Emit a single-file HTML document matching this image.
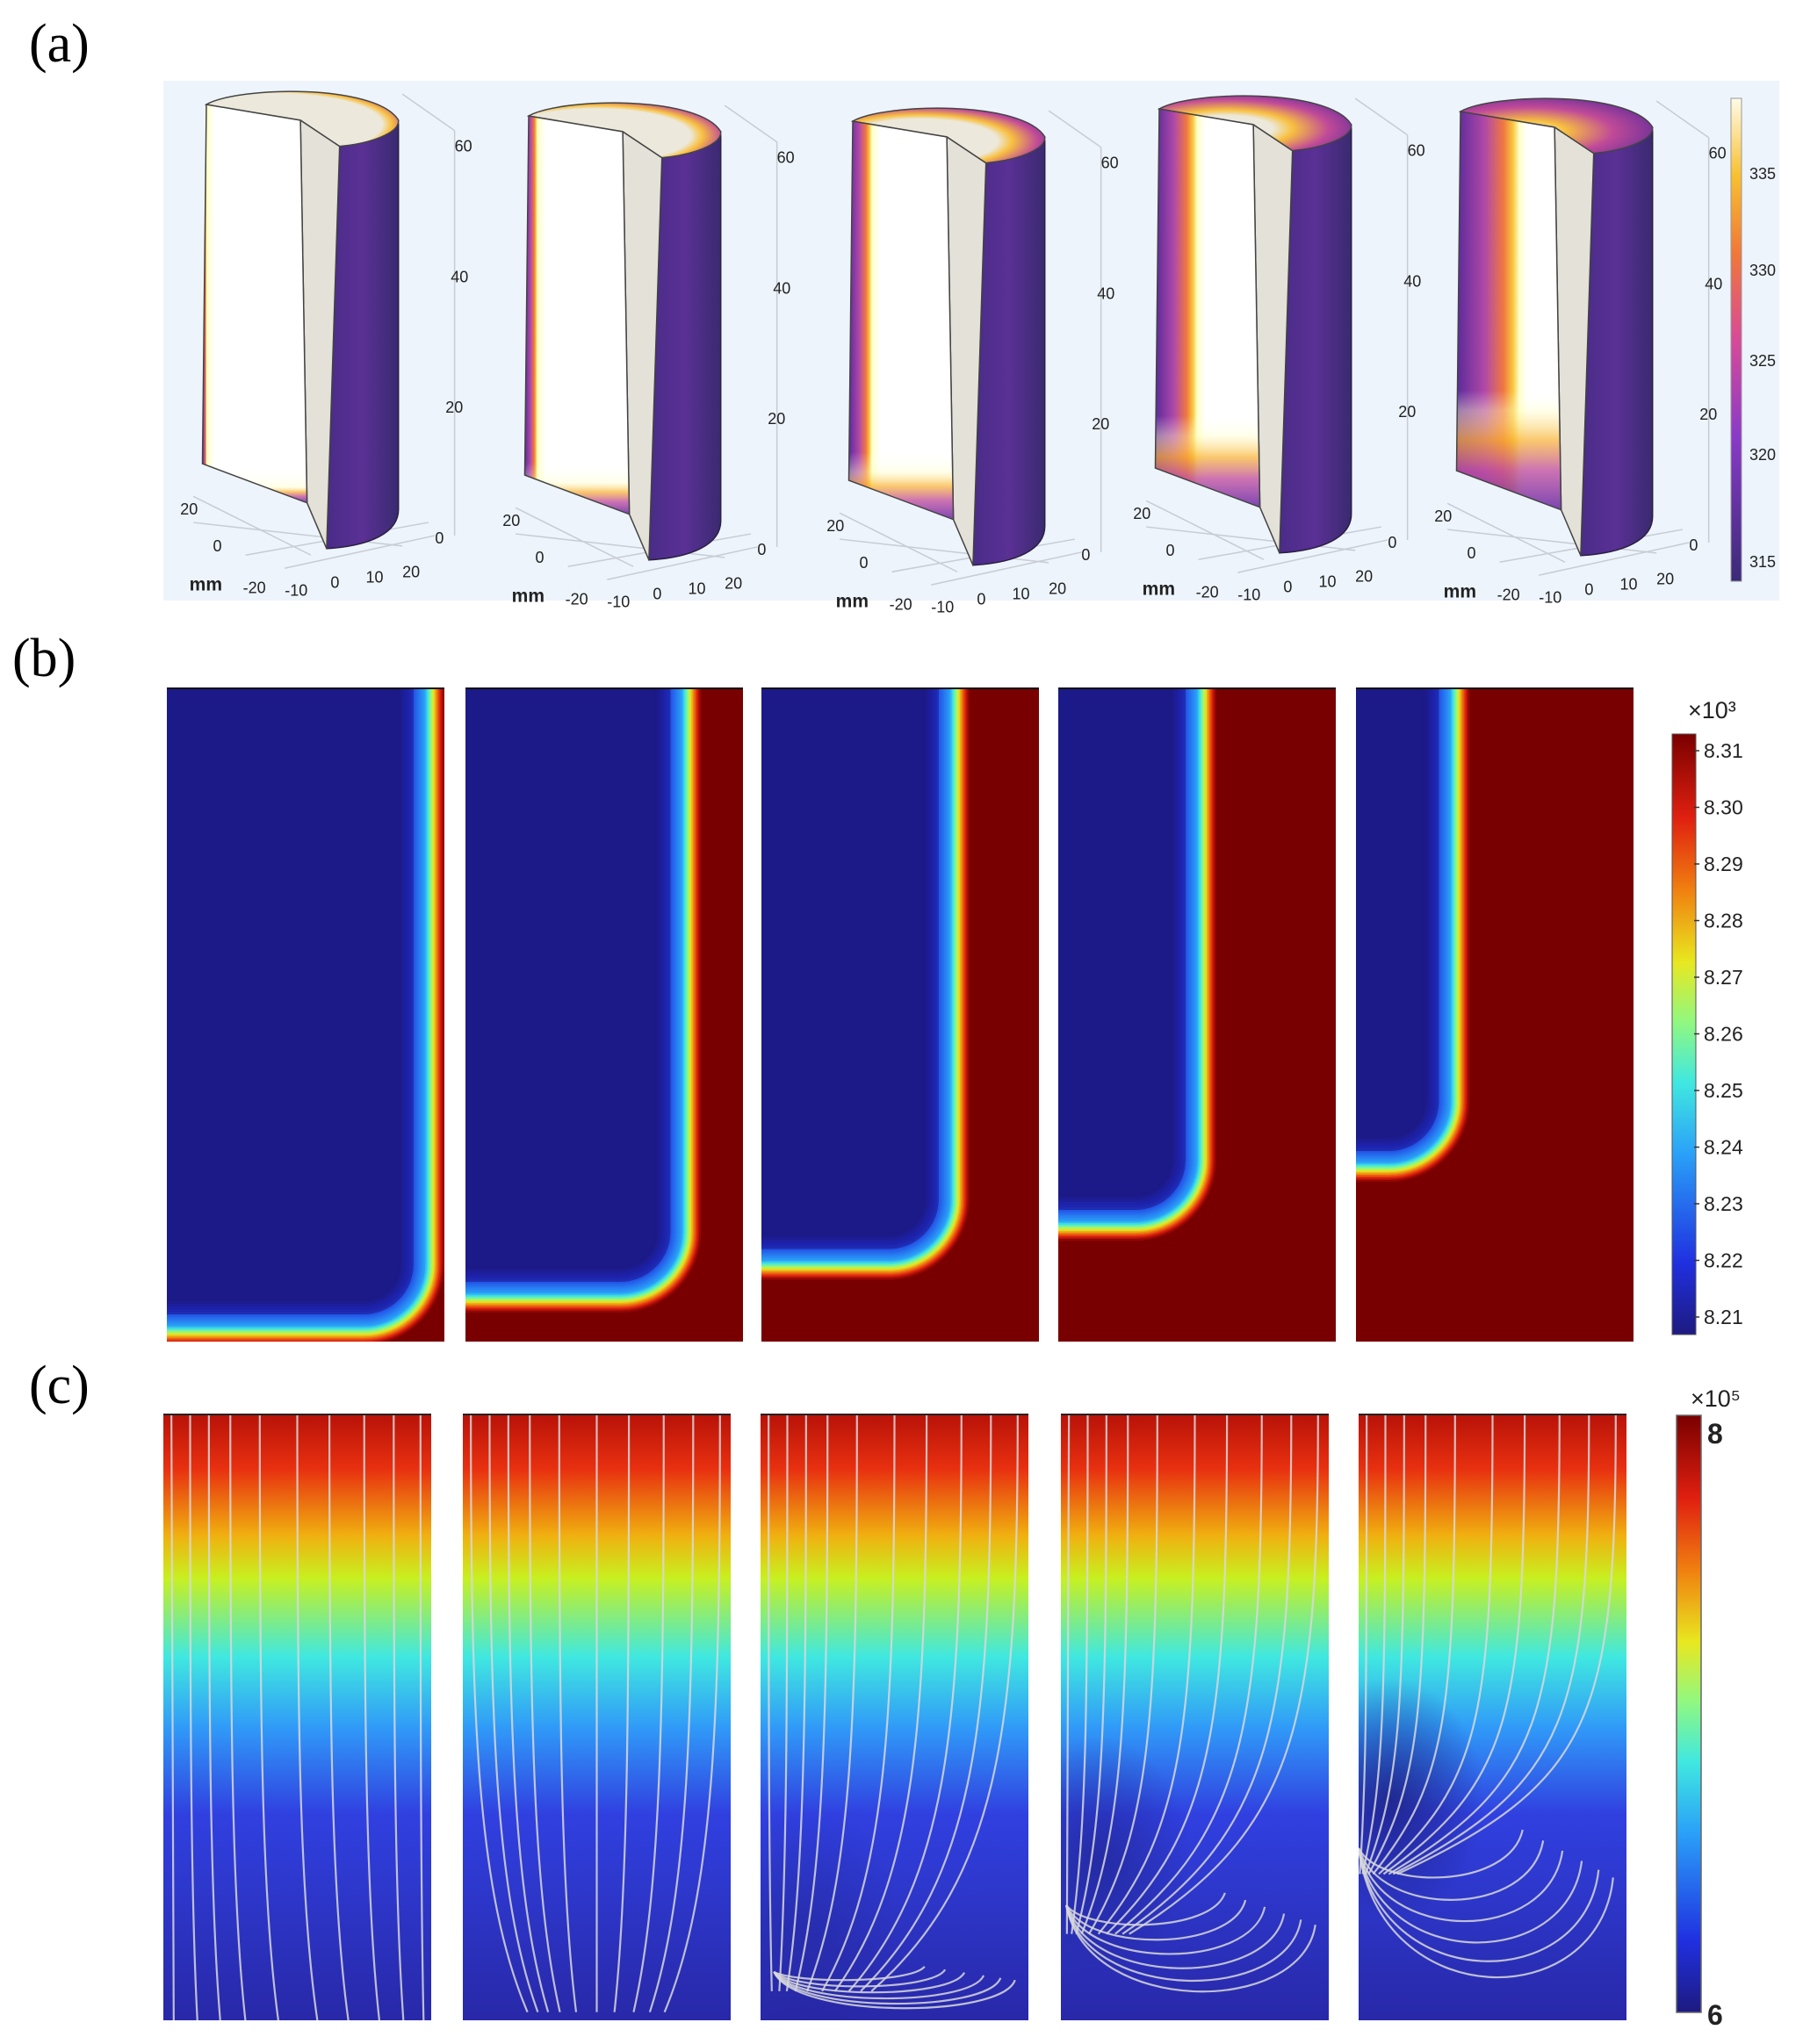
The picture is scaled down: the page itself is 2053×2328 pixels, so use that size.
<!DOCTYPE html>
<html><head><meta charset="utf-8"><style>
html,body{margin:0;padding:0;background:#fff;}
svg{display:block;}
text{font-family:"Liberation Sans",sans-serif;}
</style></head>
<body>
<svg id="fig" width="2053" height="2328" viewBox="0 0 2053 2328" xmlns="http://www.w3.org/2000/svg">
<defs>
 <linearGradient id="jetV" x1="0" y1="1" x2="0" y2="0">
  <stop offset="0" stop-color="#1e1a80"/><stop offset="0.12" stop-color="#2030e0"/>
  <stop offset="0.3" stop-color="#2aa0f8"/><stop offset="0.42" stop-color="#40e8e0"/>
  <stop offset="0.52" stop-color="#90f880"/><stop offset="0.62" stop-color="#e8e820"/>
  <stop offset="0.74" stop-color="#f08010"/><stop offset="0.86" stop-color="#e02010"/>
  <stop offset="1" stop-color="#7a0000"/>
 </linearGradient>
 <linearGradient id="plasmaV" x1="0" y1="1" x2="0" y2="0">
  <stop offset="0" stop-color="#3a2a78"/><stop offset="0.3" stop-color="#8a3ac8"/>
  <stop offset="0.5" stop-color="#d84a98"/><stop offset="0.68" stop-color="#f07838"/>
  <stop offset="0.84" stop-color="#f8c030"/><stop offset="1" stop-color="#fffbe8"/>
 </linearGradient>
 <linearGradient id="outerG" x1="0" y1="0" x2="1" y2="0">
  <stop offset="0" stop-color="#4a2c88"/><stop offset="0.5" stop-color="#5a3095"/><stop offset="1" stop-color="#3a2a70"/>
 </linearGradient>
 <linearGradient id="cG1" x1="0" y1="0" x2="0" y2="1">
  <stop offset="0" stop-color="#b81208"/><stop offset="0.09" stop-color="#e83010"/>
  <stop offset="0.2" stop-color="#f0b010"/><stop offset="0.27" stop-color="#c8f020"/>
  <stop offset="0.4" stop-color="#40e8e0"/><stop offset="0.52" stop-color="#3098f8"/>
  <stop offset="0.66" stop-color="#3040e0"/><stop offset="1" stop-color="#2828a8"/>
 </linearGradient>
 <radialGradient id="sinkG" cx="0.5" cy="0.5" r="0.5">
  <stop offset="0" stop-color="#1a1a70" stop-opacity="0.95"/><stop offset="1" stop-color="#1a1a70" stop-opacity="0"/>
 </radialGradient>
</defs>
<g id="labels">
 <text x="33" y="70" font-size="62" style="font-family:'Liberation Serif',serif">(a)</text>
 <text x="14" y="770" font-size="62" style="font-family:'Liberation Serif',serif">(b)</text>
 <text x="33" y="1598" font-size="62" style="font-family:'Liberation Serif',serif">(c)</text>
</g>
<rect x="186" y="92" width="1840" height="592" fill="#edf4fc"/>
<g id="pa"></g><g id="pb"></g><g id="pc"></g>
</svg>
<script>
// ---- data ----
const tempTicks = ["335","330","325","320","315"];
const cylEdge = [0.04, 0.12, 0.22, 0.4, 0.6];     // heated edge band fraction per frame
const cylBottom = [0.04, 0.08, 0.12, 0.18, 0.25];
const densTicks = ["8.31","8.30","8.29","8.28","8.27","8.26","8.25","8.24","8.23","8.22","8.21"];
const frontX = [0.93, 0.78, 0.68, 0.50, 0.34];       // melt-front x fraction
const frontY = [0.976, 0.926, 0.876, 0.816, 0.726];  // melt-front y fraction
const sinkX = [1.0, 0.5, 0.05, 0.02, 0.0];
const sinkY = [1.0, 0.97, 0.92, 0.81, 0.716];
const pressTicks = ["8","6"];

const NS="http://www.w3.org/2000/svg";
function el(tag, attrs, parent){const e=document.createElementNS(NS,tag);for(const k in attrs)e.setAttribute(k,attrs[k]);parent.appendChild(e);return e;}
function jet(t){
 const st=[[0,[30,26,128]],[0.12,[32,48,224]],[0.3,[42,160,248]],[0.42,[64,232,224]],[0.52,[144,248,128]],[0.62,[232,232,32]],[0.74,[240,128,16]],[0.86,[224,32,16]],[1,[122,0,0]]];
 t=Math.max(0,Math.min(1,t));
 for(let i=1;i<st.length;i++){if(t<=st[i][0]){const a=st[i-1],b=st[i],f=(t-a[0])/(b[0]-a[0]);return 'rgb('+a[1].map((v,j)=>Math.round(v+(b[1][j]-v)*f)).join(',')+')';}}
 return 'rgb(122,0,0)';
}
const defs=document.querySelector('defs');

// ---- panel a ----
const pa=document.getElementById('pa');
const cylX=[235,602,971,1320,1663], cylY=[119,132,138,124,127], s=1.4877;
function P(x0,y0,pts){return pts.map(p=>(x0+p[0]*s).toFixed(1)+','+(y0+p[1]*s).toFixed(1));}
for(let i=0;i<5;i++){
 const x0=cylX[i], y0=cylY[i], w=cylEdge[i], b=cylBottom[i];
 const g=el('linearGradient',{id:'fh'+i,x1:0,y1:0,x2:1,y2:0},defs);
 [[0,'#5a2a9a'],[w*0.45,'#b048a8'],[w*0.75,'#f07840'],[w*0.9,'#f8c840'],[w,'#ffffc8'],[Math.min(1,w+0.08),'#ffffff']].forEach(o=>el('stop',{offset:o[0],'stop-color':o[1]},g));
 const gv=el('linearGradient',{id:'fv'+i,x1:0,y1:1,x2:0,y2:0},defs);
 [[0,'#6a30a8',0.9],[b*0.4,'#c050a0',0.8],[b*0.7,'#f8b030',0.7],[b,'#ffffc8',0.4],[Math.min(1,b+0.05),'#ffffff',0]].forEach(o=>el('stop',{offset:o[0],'stop-color':o[1],'stop-opacity':o[2]},gv));
 const gt=el('radialGradient',{id:'ft'+i,cx:0.35,cy:0.6,r:0.75},defs);
 [[0,'#ece9dc'],[Math.max(0.05,0.8-w*1.2),'#ece9dc'],[Math.max(0.1,0.86-w),'#f8c040'],[Math.max(0.2,0.95-w*0.6),'#c04a98'],[1,'#5a2a9a']].forEach(o=>el('stop',{offset:o[0],'stop-color':o[1]},gt));
 const grp=el('g',{},pa);
 
 
 [[[150,-8],[190,20]],[[190,20],[190,330]],[[-10,300],[80,345]],[[-10,320],[150,338]],[[30,345],[170,320]],[[60,355],[175,330]]].forEach(l=>{
  el('line',{x1:x0+l[0][0]*s,y1:y0+l[0][1]*s,x2:x0+l[1][0]*s,y2:y0+l[1][1]*s,stroke:'#c8ccd4','stroke-width':1.5},grp);});
 el('path',{d:'M'+P(x0,y0,[[102,32],[147,15],[147,310]]).join(' L')+' C'+P(x0,y0,[[147,328],[125,338],[92,340]]).join(' ')+' Z',fill:'url(#outerG)',stroke:'#2a2040','stroke-width':1.5},grp);
 el('path',{d:'M'+P(x0,y0,[[72,12],[102,32],[92,340],[77,305]]).join(' L')+' Z',fill:'#e3e1d8',stroke:'#444','stroke-width':1.5},grp);
 const face='M'+P(x0,y0,[[0,0],[72,12],[77,305],[-3,275]]).join(' L')+' Z';
 el('path',{d:face,fill:'url(#fh'+i+')'},grp);
 el('path',{d:face,fill:'url(#fv'+i+')',stroke:'#444','stroke-width':1.5},grp);
 el('path',{d:'M'+P(x0,y0,[[0,0]])+' C'+P(x0,y0,[[25,-14],[130,-16],[147,12]]).join(' ')+' C'+P(x0,y0,[[148,22],[125,30],[102,32]]).join(' ')+' L'+P(x0,y0,[[72,12]])+' Z',fill:'url(#ft'+i+')',stroke:'#444','stroke-width':1.5},grp);
 const tl=[["60",190,36],["40",187,136],["20",183,236],["0",175,336],["20",-20,314],["0",5,342],["-20",28,374],["-10",60,376],["0",95,370],["10",122,366],["20",150,362]];
 tl.forEach(t=>{const tx=el('text',{x:x0+t[1]*s,y:y0+t[2]*s,'font-size':18,fill:'#222'},grp);tx.textContent=t[0];});
 const mm=el('text',{x:x0-13*s,y:y0+372*s,'font-size':21,'font-weight':'bold',fill:'#222'},grp);mm.textContent='mm';
}
el('rect',{x:1971,y:112,width:12,height:550,fill:'url(#plasmaV)',stroke:'#999','stroke-width':1},pa);
const tempY=[198,308,411,518,640];
tempTicks.forEach((t,i)=>{const tx=el('text',{x:1992,y:tempY[i]+6,'font-size':18,fill:'#222'},pa);tx.textContent=t;
 });

// ---- panel b ----
const pb=document.getElementById('pb');
const bx=[190,530,867,1205,1544], by=784, bw=316, bh=744;
for(let i=0;i<5;i++){
 const x=bx[i], fx=x+frontX[i]*bw, fy=by+frontY[i]*bh, r=70;
 const cp=el('clipPath',{id:'cb'+i},defs); el('rect',{x:x,y:by,width:bw,height:bh},cp);
 const g=el('g',{'clip-path':'url(#cb'+i+')'},pb);
 
 
 el('rect',{x:x,y:by,width:bw,height:bh,fill:'#780000'},g);
 el('path',{d:`M${x},${by} L${fx},${by} L${fx},${fy-r} A${r},${r} 0 0 1 ${fx-r},${fy} L${x},${fy} Z`,fill:'#1c1a88'},g);
 for(let d=-30;d<=22;d+=1.5){
  const rr=Math.max(2,r+d), t=d<0?Math.max(0,0.3+d/30*0.3):Math.min(1,0.3+d/22*0.7);
  const op=d<-12?0.35:1;
  el('path',{d:`M${fx+d},${by-5} L${fx+d},${fy+d-rr} A${rr},${rr} 0 0 1 ${fx+d-rr},${fy+d} L${x-5},${fy+d}`,fill:'none',stroke:jet(t),'stroke-width':2.2,'stroke-opacity':op},g);
 }
 el('line',{x1:x,y1:by,x2:x+bw,y2:by,stroke:'#111','stroke-width':2},pb);
}
el('rect',{x:1904,y:836,width:27,height:684,fill:'url(#jetV)',stroke:'#555','stroke-width':1},pb);
densTicks.forEach((t,i)=>{const yy=855+i*64.5;
 el('line',{x1:1929,y1:yy,x2:1935,y2:yy,stroke:'#333','stroke-width':1.5},pb);
 const tx=el('text',{x:1940,y:yy+8,'font-size':23,fill:'#222'},pb);tx.textContent=t;
 });
{const tx=el('text',{x:1922,y:818,'font-size':27,fill:'#222'},pb);tx.textContent='×10³';}

// ---- panel c ----
const pc=document.getElementById('pc');
const cx=[186,527,866,1208,1547], cy=1611, cw=305, ch=690;
const starts=[0.03,0.1,0.17,0.25,0.36,0.5,0.62,0.75,0.86,0.96];
const weights=[0.3,0.45,0.6,0.75,0.85];
const loops=[0.25,0.42,0.58,0.74,0.88,1.0];
for(let i=0;i<5;i++){
 const x=cx[i];
 const cp=el('clipPath',{id:'cc'+i},defs); el('rect',{x:x,y:cy,width:cw,height:ch},cp);
 const g=el('g',{'clip-path':'url(#cc'+i+')'},pc);
 
 
 el('rect',{x:x,y:cy,width:cw,height:ch,fill:'url(#cG1)'},g);
 const sx=x+sinkX[i]*cw, sy=cy+sinkY[i]*ch;
 if(i>=2) el('ellipse',{cx:sx+cw*0.12,cy:sy-ch*0.08,rx:cw*0.35,ry:ch*0.2,fill:'url(#sinkG)','fill-opacity':0.25*(i-1)},g);
 const w=weights[i];
 starts.forEach(f=>{
  const x0=x+f*cw;
  const ex=x0+(sx-x0)*w*(i==0?f:1), ey=cy+ch+(sy-cy-ch)*w*(i==0?0:1);
  const d=`M${x0},${cy} C${x0},${cy+ch*0.5} ${x0+(ex-x0)*0.1},${ey-(ey-cy)*0.2} ${ex},${ey}`;
  el('path',{d:d,fill:'none',stroke:'#d8d8dc','stroke-width':2.2,'stroke-opacity':0.85},g);
 });
 if(i>=2){
  const H=cy+ch-sy;
  loops.forEach(f=>{
   const yb=sy+H*f*0.97, tx=x+cw*(0.5+0.45*f), ye=yb-H*(0.2+0.6*f);
   el('path',{d:`M${sx},${sy} C${sx+cw*0.08},${yb} ${tx-cw*0.05},${yb} ${tx},${ye}`,fill:'none',stroke:'#d8d8dc','stroke-width':2.2,'stroke-opacity':0.85},g);
  });
 }
 el('line',{x1:x,y1:cy,x2:x+cw,y2:cy,stroke:'#222','stroke-width':2},pc);
}
el('rect',{x:1909,y:1612,width:28,height:680,fill:'url(#jetV)',stroke:'#666','stroke-width':1.5},pc);
{const t8=el('text',{x:1944,y:1644,'font-size':32,'font-weight':'bold',fill:'#222'},pc);t8.textContent=pressTicks[0];
 const t6=el('text',{x:1944,y:2306,'font-size':32,'font-weight':'bold',fill:'#222'},pc);t6.textContent=pressTicks[1];
 const te=el('text',{x:1925,y:1602,'font-size':27,fill:'#222'},pc);te.textContent='×10⁵';}
</script>
</body></html>
